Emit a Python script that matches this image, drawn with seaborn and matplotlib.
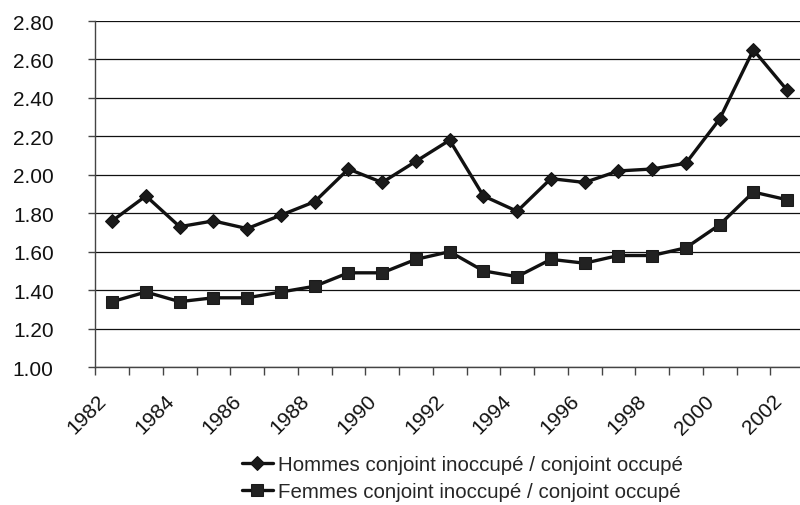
import numpy as np
import pandas as pd
import matplotlib
matplotlib.use("Agg")
import matplotlib.pyplot as plt
import seaborn as sns

sns.set_theme(style="white")
plt.rcParams["font.family"] = ["Liberation Sans", "DejaVu Sans"]

# ── DONNÉES ──────────────────────────────────────────────────────────────────

annees = list(range(1982, 2003))
hommes = [1.76, 1.89, 1.73, 1.76, 1.72, 1.79, 1.86, 2.03, 1.96, 2.07, 2.18,
          1.89, 1.81, 1.98, 1.96, 2.02, 2.03, 2.06, 2.29, 2.65, 2.44]
femmes = [1.34, 1.39, 1.34, 1.36, 1.36, 1.39, 1.42, 1.49, 1.49, 1.56, 1.60,
          1.50, 1.47, 1.56, 1.54, 1.58, 1.58, 1.62, 1.74, 1.91, 1.87]
lab_h = "Hommes conjoint inoccupé / conjoint occupé"
lab_f = "Femmes conjoint inoccupé / conjoint occupé"
y_ticks = [1.00, 1.20, 1.40, 1.60, 1.80, 2.00, 2.20, 2.40, 2.60, 2.80]

pos = np.arange(len(annees))
df_h = pd.DataFrame({"pos": pos, "val": hommes})
df_f = pd.DataFrame({"pos": pos, "val": femmes})

# ── FIGURE ───────────────────────────────────────────────────────────────────

fig = plt.figure(figsize=(8, 5.06), dpi=100)
ax = fig.add_axes([95.3 / 800, 138 / 506, (804 - 95.3) / 800, 346 / 506])

sns.lineplot(data=df_h, x="pos", y="val", ax=ax, color="#111111", lw=2.4,
             marker="D", markersize=7, markeredgecolor="#111111",
             markerfacecolor="#1a1a1a", label=lab_h)
sns.lineplot(data=df_f, x="pos", y="val", ax=ax, color="#111111", lw=2.4,
             marker="s", markersize=9, markeredgecolor="#1a1a1a",
             markerfacecolor="#222222", label=lab_f)

ax.set_xlim(-0.5, len(annees) - 0.5)
ax.set_ylim(1.0, 2.8)
ax.set_yticks(y_ticks)
ax.set_yticklabels([f"{v:.2f}" for v in y_ticks], fontsize=15)
ax.yaxis.grid(True, color="#111111", lw=0.9)
ax.xaxis.grid(False)

# ticks aux bornes des catégories, étiquettes une année sur deux
ax.set_xticks(np.arange(-0.5, len(annees), 1.0))
ax.set_xticklabels([])
ax.set_xticks(pos[::2] - 0.25, minor=True)
ax.set_xticklabels([str(a) for a in annees[::2]], minor=True, fontsize=15,
                   rotation=45, ha="right", va="center", rotation_mode="anchor")
ax.tick_params(axis="x", which="major", direction="out", length=6, width=1,
               color="#444444", bottom=True)
ax.tick_params(axis="x", which="minor", length=0, pad=22, colors="#111111")
ax.tick_params(axis="y", direction="out", length=5, width=1, color="#444444",
               left=True, pad=25, colors="#111111")

for s in ["top", "right"]:
    ax.spines[s].set_visible(False)
for s in ["left", "bottom"]:
    ax.spines[s].set_color("#444444")
    ax.spines[s].set_linewidth(1)

ax.set_xlabel("")
ax.set_ylabel("")
ax.legend_.remove()

h, l = ax.get_legend_handles_labels()
fig.legend(h, l, loc="upper left", bbox_to_anchor=(242 / 800, 1 - 456 / 506),
           frameon=False, fontsize=14.8, handlelength=1.5, handletextpad=0.25,
           labelspacing=0.4, borderpad=0, borderaxespad=0)

plt.savefig("out.png", dpi=100)
plt.close()
